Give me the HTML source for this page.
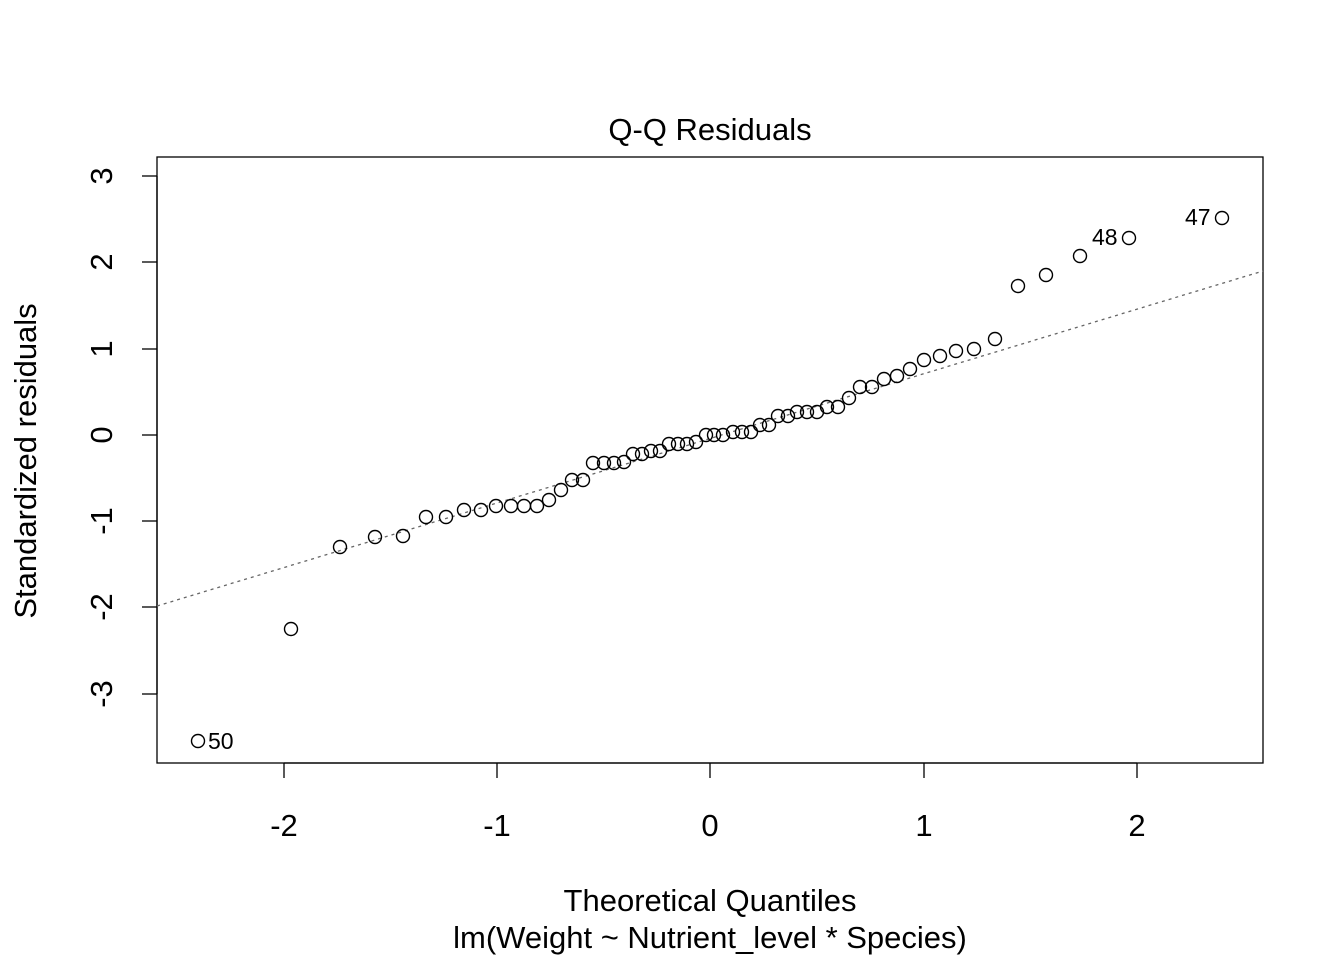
<!DOCTYPE html>
<html><head><meta charset="utf-8"><style>body{margin:0;background:#fff}svg{display:block}</style></head><body>
<svg width="1344" height="960" xmlns="http://www.w3.org/2000/svg" font-family="Liberation Sans, Arial, sans-serif">
<rect x="157" y="157" width="1106" height="606" fill="none" stroke="#000" stroke-width="1.3"/>
<text x="710" y="140" font-size="31" text-anchor="middle">Q-Q Residuals</text>
<g stroke="#000" stroke-width="1.3">
<line x1="284" y1="763" x2="1137" y2="763"/>
<line x1="284" y1="763" x2="284" y2="778"/><line x1="497" y1="763" x2="497" y2="778"/><line x1="710" y1="763" x2="710" y2="778"/><line x1="924" y1="763" x2="924" y2="778"/><line x1="1137" y1="763" x2="1137" y2="778"/>
<line x1="157" y1="176" x2="157" y2="694"/>
<line x1="142" y1="176" x2="157" y2="176"/><line x1="142" y1="262" x2="157" y2="262"/><line x1="142" y1="349" x2="157" y2="349"/><line x1="142" y1="435" x2="157" y2="435"/><line x1="142" y1="521" x2="157" y2="521"/><line x1="142" y1="607" x2="157" y2="607"/><line x1="142" y1="694" x2="157" y2="694"/>
</g>
<g font-size="31" text-anchor="middle">
<text x="284" y="836">-2</text><text x="497" y="836">-1</text><text x="710" y="836">0</text><text x="924" y="836">1</text><text x="1137" y="836">2</text>
<text x="710" y="911">Theoretical Quantiles</text>
<text x="710" y="948">lm(Weight ~ Nutrient_level * Species)</text>
<g transform="rotate(-90)">
<text x="-176" y="112">3</text><text x="-262" y="112">2</text><text x="-349" y="112">1</text><text x="-435" y="112">0</text><text x="-521" y="112">-1</text><text x="-607" y="112">-2</text><text x="-694" y="112">-3</text>
<text x="-461" y="36">Standardized residuals</text>
</g></g>
<line x1="157" y1="606" x2="1263" y2="271" stroke="#666" stroke-width="1.3" stroke-dasharray="3,4"/>
<g fill="none" stroke="#000" stroke-width="1.4">
<circle cx="198" cy="741" r="6.5"/><circle cx="291" cy="629" r="6.5"/><circle cx="340" cy="547" r="6.5"/><circle cx="375" cy="537" r="6.5"/><circle cx="403" cy="536" r="6.5"/><circle cx="426" cy="517" r="6.5"/><circle cx="446" cy="517" r="6.5"/><circle cx="464" cy="510" r="6.5"/><circle cx="481" cy="510" r="6.5"/><circle cx="496" cy="506" r="6.5"/><circle cx="511" cy="506" r="6.5"/><circle cx="524" cy="506" r="6.5"/><circle cx="537" cy="506" r="6.5"/><circle cx="549" cy="500" r="6.5"/><circle cx="561" cy="490" r="6.5"/><circle cx="572" cy="480" r="6.5"/><circle cx="583" cy="480" r="6.5"/><circle cx="593" cy="463" r="6.5"/><circle cx="604" cy="463" r="6.5"/><circle cx="614" cy="463" r="6.5"/><circle cx="624" cy="462" r="6.5"/><circle cx="633" cy="454" r="6.5"/><circle cx="642" cy="454" r="6.5"/><circle cx="651" cy="451" r="6.5"/><circle cx="660" cy="451" r="6.5"/><circle cx="669" cy="444" r="6.5"/><circle cx="678" cy="444" r="6.5"/><circle cx="687" cy="444" r="6.5"/><circle cx="696" cy="442" r="6.5"/><circle cx="706" cy="435" r="6.5"/><circle cx="714" cy="435" r="6.5"/><circle cx="723" cy="435" r="6.5"/><circle cx="733" cy="432" r="6.5"/><circle cx="742" cy="432" r="6.5"/><circle cx="751" cy="432" r="6.5"/><circle cx="760" cy="425" r="6.5"/><circle cx="769" cy="425" r="6.5"/><circle cx="778" cy="416" r="6.5"/><circle cx="788" cy="416" r="6.5"/><circle cx="797" cy="412" r="6.5"/><circle cx="807" cy="412" r="6.5"/><circle cx="817" cy="412" r="6.5"/><circle cx="827" cy="407" r="6.5"/><circle cx="838" cy="407" r="6.5"/><circle cx="849" cy="398" r="6.5"/><circle cx="860" cy="387" r="6.5"/><circle cx="872" cy="387" r="6.5"/><circle cx="884" cy="379" r="6.5"/><circle cx="897" cy="376" r="6.5"/><circle cx="910" cy="369" r="6.5"/><circle cx="924" cy="360" r="6.5"/><circle cx="940" cy="356" r="6.5"/><circle cx="956" cy="351" r="6.5"/><circle cx="974" cy="349" r="6.5"/><circle cx="995" cy="339" r="6.5"/><circle cx="1018" cy="286" r="6.5"/><circle cx="1046" cy="275" r="6.5"/><circle cx="1080" cy="256" r="6.5"/><circle cx="1129" cy="238" r="6.5"/><circle cx="1222" cy="218" r="6.5"/>
</g>
<g font-size="23">
<text x="208" y="749">50</text><text x="1092" y="245">48</text><text x="1185" y="225">47</text>
</g>
</svg>
</body></html>
